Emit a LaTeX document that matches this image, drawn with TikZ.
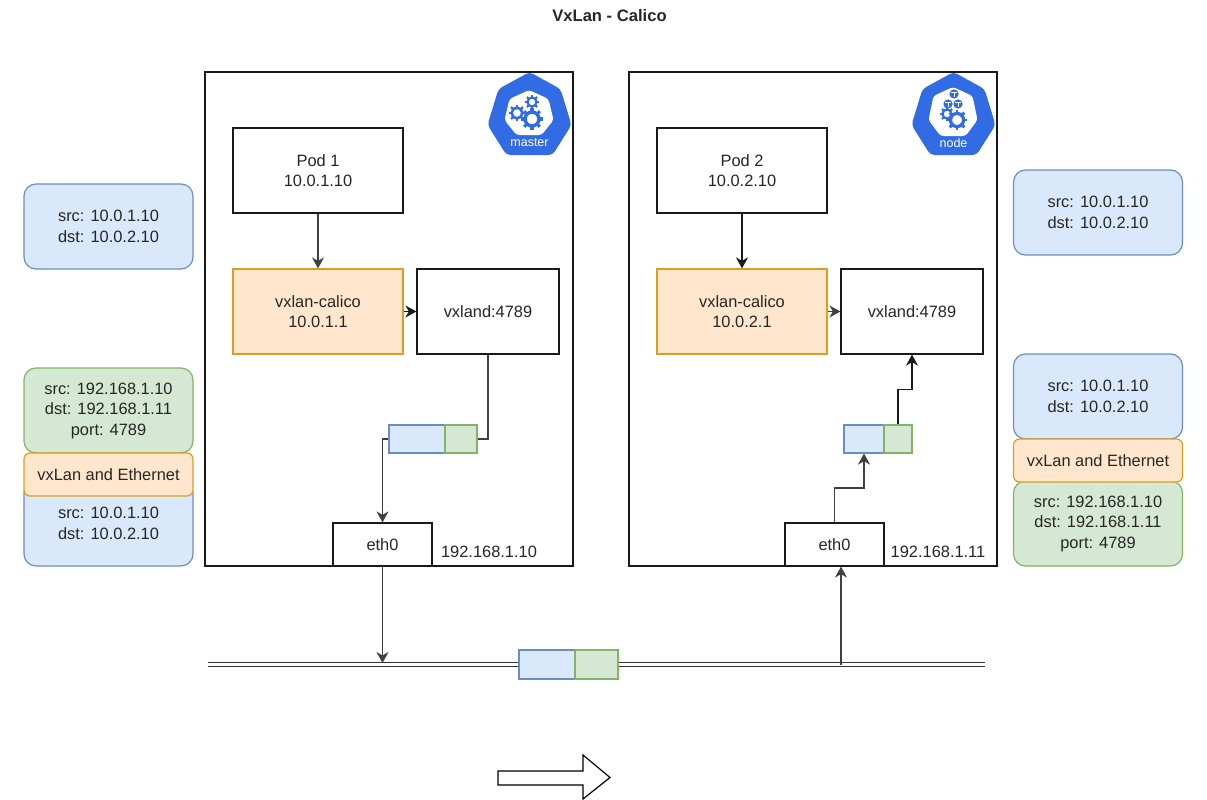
\documentclass[tikz,border=0pt]{standalone}
\usepackage{fontspec}
\setmainfont{Liberation Sans}
\usetikzlibrary{arrows.meta}
\definecolor{blueFill}{HTML}{DAE8FC}
\definecolor{blueLine}{HTML}{6C8EBF}
\definecolor{greenFill}{HTML}{D5E8D4}
\definecolor{greenLine}{HTML}{82B366}
\definecolor{orangeFill}{HTML}{FFE6CC}
\definecolor{orangeLine}{HTML}{D9A020}
\definecolor{kubeBlue}{HTML}{326CE5}
\tikzset{
	labeltext/.style={font=\fontsize{16.4}{20.5}\selectfont,align=center,text=black!85},
	host/.style={draw=black!90,line width=1.2pt,minimum width=368pt,minimum height=494pt,inner sep=0pt},
	plain/.style={draw=black!90,line width=1.2pt,fill=white,labeltext,inner sep=0pt},
	pod/.style={plain,minimum width=170pt,minimum height=85pt},
	vxland/.style={plain,minimum width=142pt,minimum height=85pt},
	eth/.style={plain,minimum width=99pt,minimum height=43pt},
	calico/.style={draw=orangeLine,line width=1.2pt,fill=orangeFill,labeltext,minimum width=170pt,minimum height=85pt,inner sep=0pt},
	frameblue/.style={draw=blueLine,line width=1.2pt,fill=blueFill,inner sep=0pt},
	framegreen/.style={draw=greenLine,line width=1.2pt,fill=greenFill,inner sep=0pt},
	noteblue/.style={frameblue,rounded corners=12pt,labeltext,minimum width=169pt,minimum height=85pt},
	notegreen/.style={framegreen,rounded corners=12pt,labeltext,minimum width=169pt,minimum height=85pt},
	noteorange/.style={draw=orangeLine,line width=1.2pt,fill=orangeFill,rounded corners=6pt,labeltext,minimum width=169pt,minimum height=43pt,inner sep=0pt},
	wire/.style={draw=black!75,line width=1.2pt,-{Stealth[length=11pt,width=12pt,inset=3.5pt]}},
	wirebold/.style={wire,draw=black!90,line width=1.5pt},
	nowire/.style={draw=black!75,line width=1.2pt}
}
% gear: x, y, radius
\newcommand{\gearicon}[3]{
	\draw[kubeBlue,line width=#3*0.4pt] (#1,#2) circle (#3*0.82pt);
	\foreach \a in {0,45,...,315}
		\draw[kubeBlue,line width=#3*0.36pt] (#1,#2) ++(\a:#3*0.85pt) -- ++(\a:#3*0.45pt);
}
% cube of the node logo: x, y
\newcommand{\cubeicon}[2]{
	\fill[kubeBlue] (#1,#2) circle (4.6pt);
	\draw[white,line width=.7pt] (#1-2.6,#2-1.2) -- (#1+2.6,#2-1.2) (#1,#2-1.2) -- (#1,#2+3);
}
% logo: x of the centre, top and bottom of the white part, text
\newcommand{\kubelogo}[4]{
	\fill[kubeBlue,rounded corners=4pt] (#1,72) -- (#1+31,89) -- (#1+42,125) -- (#1+23,155) -- (#1-23,155) -- (#1-42,125) -- (#1-31,89) -- cycle;
	\fill[white,rounded corners=3pt] (#1-.5,#2) -- (#1+19,#2+9) -- (#1+24,120) -- (#1+12,#3) -- (#1-13,#3) -- (#1-25,120) -- (#1-20,#2+9) -- cycle;
	\node[white,inner sep=0pt,font=\fontsize{12.5}{12.5}\selectfont] at (#1,143) {#4};
}
\begin{document}
\begin{tikzpicture}[x=1pt,y=-1pt]
	\useasboundingbox (0,0) rectangle (1207,800);
	\node[font=\fontsize{16.6}{16.6}\selectfont\bfseries,text=black!85] (title) at (609.5,16) {VxLan - Calico};

	\node[host] (master) at (389,319) {};
	\node[host] (worker) at (813,319) {};

	\kubelogo{529.5}{90}{135}{master}
	\gearicon{517}{113}{6.5}
	\gearicon{532}{102}{5.5}
	\gearicon{532}{119}{8.5}
	\kubelogo{953.5}{87}{136}{node}
	\cubeicon{954}{94}
	\cubeicon{948}{104}
	\cubeicon{958}{104}
	\gearicon{947}{114}{5.5}
	\gearicon{957}{120}{8}

	\node[pod] (PA) at (318,170.5) {Pod 1\\10.0.1.10};
	\node[calico] (CA) at (318,311.5) {vxlan-calico\\10.0.1.1};
	\node[vxland] (VA) at (488,311.5) {vxland:4789};
	\node[eth] (EA) at (382.5,544.5) {eth0};
	\node[labeltext,inner sep=0pt] (ipA) at (489,552) {192.168.1.10};

	\node[pod] (PB) at (742,170.5) {Pod 2\\10.0.2.10};
	\node[calico] (CB) at (742,311.5) {vxlan-calico\\10.0.2.1};
	\node[vxland] (VB) at (912,311.5) {vxland:4789};
	\node[eth] (EB) at (834.5,544.5) {eth0};
	\node[labeltext,inner sep=0pt] (ipB) at (938,552) {192.168.1.11};

	% packets
	\node[frameblue,minimum width=56pt,minimum height=28pt] (blueA) at (417,439) {};
	\node[framegreen,minimum width=32pt,minimum height=28pt] (greenA) at (461,439) {};
	\node[frameblue,minimum width=40pt,minimum height=28pt] (blueB) at (864,439) {};
	\node[framegreen,minimum width=28pt,minimum height=28pt] (greenB) at (898,439) {};

	% notes, left
	\node[noteblue] (NA) at (108.5,226.5) {src: 10.0.1.10\\dst: 10.0.2.10};
	\node[notegreen] (NB) at (108.5,410.5) {src: 192.168.1.10\\dst: 192.168.1.11\\port: 4789};
	\node[noteblue] (NC) at (108.5,523.5) {src: 10.0.1.10\\dst: 10.0.2.10};
	\node[noteorange] (ND) at (108.5,474.5) {vxLan and Ethernet};
	% notes, right
	\node[noteblue] (NE) at (1098,212.5) {src: 10.0.1.10\\dst: 10.0.2.10};
	\node[noteblue] (NF) at (1098,396.5) {src: 10.0.1.10\\dst: 10.0.2.10};
	\node[notegreen] (NG) at (1098,523.5) {src: 192.168.1.10\\dst: 192.168.1.11\\port: 4789};
	\node[noteorange] (NH) at (1098,460.5) {vxLan and Ethernet};

	% bus
	\coordinate (busL) at (208,664.5);
	\coordinate (busR) at (985,664.5);
	\coordinate (busA) at (382.5,663);
	\coordinate (busB) at (841,665);
	\draw[black!80,line width=1pt,double,double distance=3.6pt] (busL)--(busR);
	\node[frameblue,minimum width=56pt,minimum height=29pt] (blueC) at (547,664.5) {};
	\node[framegreen,minimum width=43pt,minimum height=29pt] (greenC) at (596.5,664.5) {};

	\coordinate (bendA) at (850,488);
	\coordinate (bendB) at (905,389.5);

	\draw[wire] (PA)--(CA);
	\draw[wirebold] (PB)--(CB);
	\draw[wirebold] (CA)--(VA);
	\draw[wire] (CB)--(VB);
	\draw[nowire] (VA.south) |- (greenA.east);
	\draw[wire] (blueA.west) -| (EA.north);
	\draw[wire] (EA.south)--(busA);
	\draw[wire] (busB)--(busB |- EB.south);
	\draw[wire] (EB.north) |- (bendA) -| (blueB.south);
	\draw[wirebold] (greenB.north) |- (bendB) -| (VB.south);

	% direction
	\draw[black,line width=1.2pt,fill=white] (498,771) -- (583,771) -- (583,755) -- (610,777.5) -- (583,799) -- (583,785) -- (498,785) -- cycle;
\end{tikzpicture}
\end{document}
